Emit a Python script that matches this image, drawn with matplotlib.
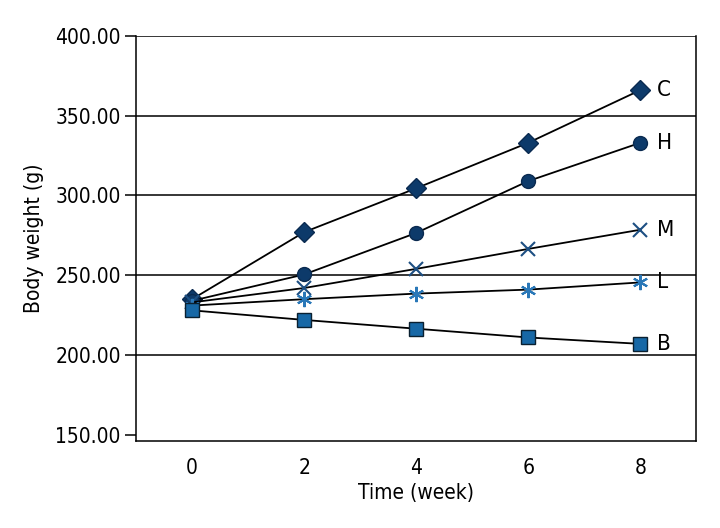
import matplotlib
matplotlib.use("Agg")
import matplotlib.pyplot as plt

plt.rcParams['font.family'] = ['DejaVu Sans']
plt.rcParams['font.stretch'] = 'condensed'

weeks = [0, 2, 4, 6, 8]
group_names = ["C", "H", "M", "L", "B"]
weight_C = [235, 277, 304.5, 333, 366]
weight_H = [234, 250.5, 276.5, 309, 333]
weight_M = [233, 242, 254, 266.5, 278.5]
weight_L = [231, 235, 238.5, 241, 245.5]
weight_B = [228, 222, 216.5, 211, 207]
y_ticks = [150, 200, 250, 300, 350, 400]

series = [weight_C, weight_H, weight_M, weight_L, weight_B]
styles = [
    dict(marker="D", markersize=10, markerfacecolor="#0d3a6a", markeredgecolor="#0a2a50", markeredgewidth=1),
    dict(marker="o", markersize=10, markerfacecolor="#0d3a6a", markeredgecolor="#0a2a50", markeredgewidth=1),
    dict(marker="x", markersize=10, markeredgecolor="#1d4f82", markeredgewidth=1.5),
    dict(marker=(6, 2, 0), markersize=11, markeredgecolor="#2a78b8", markeredgewidth=1.5),
    dict(marker="s", markersize=10, markerfacecolor="#1768a6", markeredgecolor="#0a2030", markeredgewidth=1),
]

fig = plt.figure(figsize=(7.2, 5.28), dpi=100)
ax = fig.add_axes([0.189, 0.165, 0.778, 0.767])

# horizontal reference lines
for y in y_ticks[1:]:
    ax.axhline(y, color="black", linewidth=1.1, zorder=1)

for name, vals, st in zip(group_names, series, styles):
    ax.plot(weeks, vals, color="black", linewidth=1.3, zorder=3, **st)
    ax.text(weeks[-1] + 0.3, vals[-1], name, fontsize=16, va="center", ha="left")

ax.set_xlim(-1, 9)
ax.set_ylim(146.2, 400)
ax.set_xticks(weeks)
ax.set_yticks(y_ticks)
ax.set_yticklabels(["%.2f" % v for v in y_ticks])
ax.tick_params(axis="y", direction="out", length=8, width=1.1, labelsize=15, pad=3)
ax.tick_params(axis="x", length=0, labelsize=15, pad=12)
ax.spines["top"].set_visible(False)
for s in ["left", "right", "bottom"]:
    ax.spines[s].set_linewidth(1.1)

ax.set_xlabel("Time (week)", fontsize=15, labelpad=4)
ax.set_ylabel("Body weight (g)", fontsize=15, labelpad=8)

fig.savefig("out.png", dpi=100)
